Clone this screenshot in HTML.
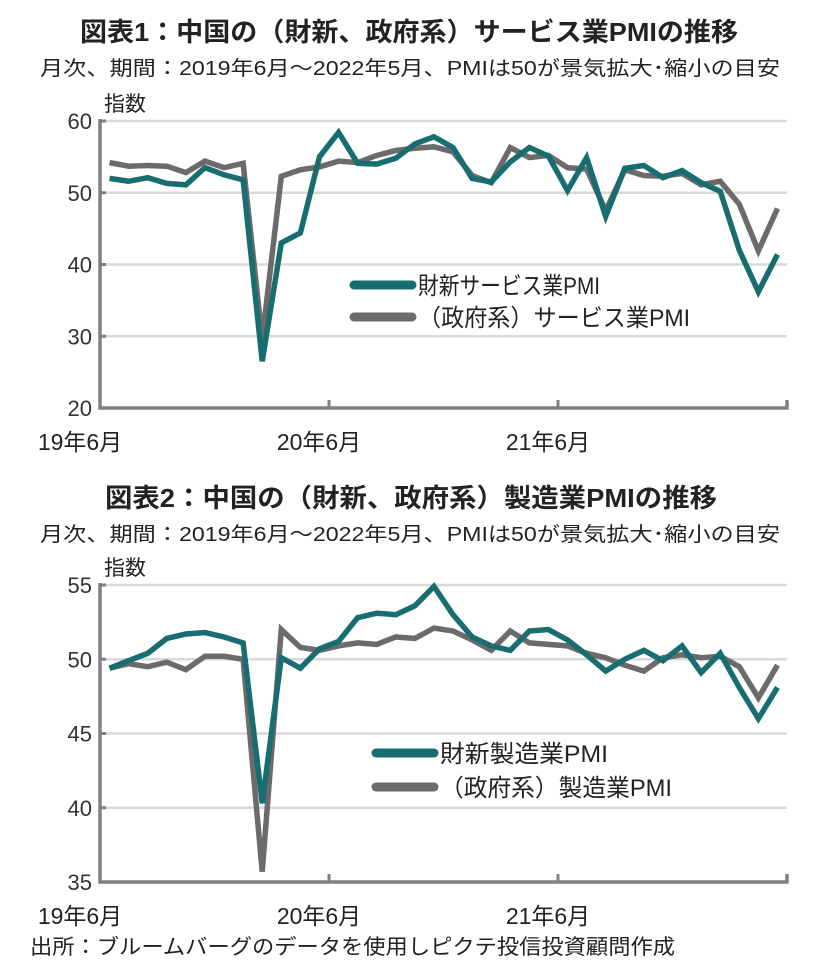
<!DOCTYPE html>
<html><head><meta charset="utf-8"><style>
body{margin:0;background:#fff;width:833px;height:975px;overflow:hidden}
svg{display:block;font-family:"Liberation Sans","Noto Sans CJK JP",sans-serif}
</style></head><body>
<svg id="s" width="833" height="975">
<text x="80" y="41" font-size="26" font-weight="bold" textLength="658" lengthAdjust="spacingAndGlyphs" fill="#222">図表1：中国の（財新、政府系）サービス業PMIの推移</text>
<text x="40" y="75" font-size="20" textLength="740" lengthAdjust="spacingAndGlyphs" fill="#222">月次、期間：2019年6月～2022年5月、PMIは50が景気拡大･縮小の目安</text>
<text x="105" y="507" font-size="26" font-weight="bold" textLength="612" lengthAdjust="spacingAndGlyphs" fill="#222">図表2：中国の（財新、政府系）製造業PMIの推移</text>
<text x="40" y="541" font-size="20" textLength="740" lengthAdjust="spacingAndGlyphs" fill="#222">月次、期間：2019年6月～2022年5月、PMIは50が景気拡大･縮小の目安</text>
<text x="30" y="954" font-size="21" textLength="645" lengthAdjust="spacingAndGlyphs" fill="#222">出所：ブルームバーグのデータを使用しピクテ投信投資顧問作成</text>
</svg>
<script>
const xTickLabels=["19年6月","20年6月","21年6月"];
const svcTicks=[20,30,40,50,60];
const mfgTicks=[35,40,45,50,55];
const svcCaixin=[52.0,51.6,52.1,51.3,51.1,53.5,52.5,51.8,26.5,43.0,44.4,55.0,58.4,54.1,54.0,54.8,56.8,57.8,56.3,52.0,51.5,54.3,56.3,55.1,50.3,54.9,46.7,53.4,53.8,52.1,53.1,51.4,50.2,42.0,36.2,41.4];
const svcOfficial=[54.2,53.7,53.8,53.7,52.8,54.4,53.5,54.1,29.6,52.3,53.2,53.6,54.4,54.2,55.2,55.9,56.2,56.4,55.7,52.4,51.4,56.3,54.9,55.2,53.5,53.3,47.5,53.2,52.4,52.3,52.7,51.1,51.6,48.4,41.9,47.8];
const mfgCaixin=[49.4,49.9,50.4,51.4,51.7,51.8,51.5,51.1,40.3,50.1,49.4,50.7,51.2,52.8,53.1,53.0,53.6,54.9,53.0,51.5,50.9,50.6,51.9,52.0,51.3,50.3,49.2,50.0,50.6,49.9,50.9,49.1,50.4,48.1,46.0,48.1];
const mfgOfficial=[49.4,49.7,49.5,49.8,49.3,50.2,50.2,50.0,35.7,52.0,50.8,50.6,50.9,51.1,51.0,51.5,51.4,52.1,51.9,51.3,50.6,51.9,51.1,51.0,50.9,50.4,50.1,49.6,49.2,50.1,50.3,50.1,50.2,49.5,47.4,49.6];
const svcLegend=["財新サービス業PMI","（政府系）サービス業PMI"];
const mfgLegend=["財新製造業PMI","（政府系）製造業PMI"];
const NS="http://www.w3.org/2000/svg";
const svg=document.getElementById('s');
function mk(t,a,p){const e=document.createElementNS(NS,t);for(const k in a)e.setAttribute(k,a[k]);(p||svg).appendChild(e);return e;}
function chart(id,top,bot,ticks,s1,s2,leg,lx,ly,lgap,lw){
  const L=100,R=787,n=s1.length,step=(R-L)/n;
  const lo=ticks[0],hi=ticks[ticks.length-1];
  const y=v=>bot-(v-lo)/(hi-lo)*(bot-top);
  const x=i=>L+step*(i+0.5);
  const g=mk('g',{});
  
  
  ticks.forEach(t=>{
    if(t!==lo){const l=mk('line',{x1:L,x2:R,y1:y(t),y2:y(t),stroke:'#d9d9d9','stroke-width':2.5},g);
    
    }
    const tx=mk('text',{x:L-8,y:y(t)+8,'font-size':22,'text-anchor':'end',fill:'#333'},g);
    tx.textContent=t;
    
    
    mk('line',{x1:L,x2:L+6,y1:y(t),y2:y(t),stroke:'#808080','stroke-width':3},g);
  });
  const ax=mk('path',{d:`M${L} ${top-2}V${bot}H${R}V${bot-8}`,stroke:'#808080','stroke-width':3.5,fill:'none'},g);
  
  
  const yt=mk('text',{x:104,y:top-10,'font-size':21,fill:'#222'},g);
  yt.textContent='指数';
  
  
  xTickLabels.forEach((lab,k)=>{
    const xx=L+step*12*k;
    if(k>0)mk('line',{x1:xx,x2:xx,y1:bot,y2:bot-8,stroke:'#808080','stroke-width':3},g);
    const t=mk('text',{x:xx-20+(k?10:0),y:bot+42,'font-size':23,'text-anchor':'middle',fill:'#222'},g);
    t.textContent=lab;
    
    
  });
  [[s2,'#6b6b6b'],[s1,'#186d70']].forEach(([s,c],k)=>{
    const p=mk('polyline',{points:s.map((v,i)=>x(i)+','+y(v)).join(' '),fill:'none',stroke:c,'stroke-width':5.5,'stroke-linejoin':'miter','stroke-miterlimit':3},g);
    
    
  });
  leg.forEach((lab,k)=>{
    const yy=ly+k*lgap,c=k?'#6b6b6b':'#186d70';
    const l=mk('line',{x1:lx,x2:lx+58,y1:yy,y2:yy,stroke:c,'stroke-width':9,'stroke-linecap':'round'},g);
    
    
    const t=mk('text',{x:lx+64,y:yy+9,'font-size':24,fill:'#222',textLength:lw[k],lengthAdjust:'spacingAndGlyphs'},g);
    t.textContent=lab;
    
    
  });
}
chart('services-chart',121,408,svcTicks,svcCaixin,svcOfficial,svcLegend,354,285,32,[182,272]);
chart('manufacturing-chart',585,882,mfgTicks,mfgCaixin,mfgOfficial,mfgLegend,376,753,34,[168,232]);
</script>
</body></html>
